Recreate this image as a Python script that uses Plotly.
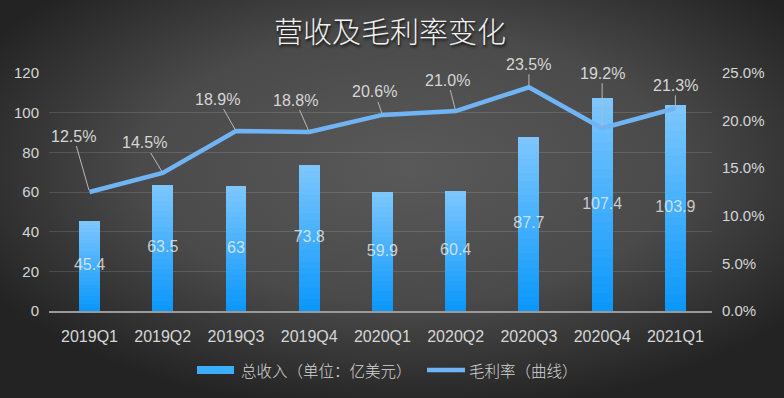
import plotly.graph_objects as go

categories = ["2019Q1", "2019Q2", "2019Q3", "2019Q4", "2020Q1", "2020Q2", "2020Q3", "2020Q4", "2021Q1"]
revenue = [45.4, 63.5, 63.0, 73.8, 59.9, 60.4, 87.7, 107.4, 103.9]
revenue_labels = ["45.4", "63.5", "63", "73.8", "59.9", "60.4", "87.7", "107.4", "103.9"]
margin = [12.5, 14.5, 18.9, 18.8, 20.6, 21.0, 23.5, 19.2, 21.3]
margin_labels = ["12.5%", "14.5%", "18.9%", "18.8%", "20.6%", "21.0%", "23.5%", "19.2%", "21.3%"]
label_offsets = [(-16, -56), (-18, -30), (-18, -32), (-14, -32), (-8, -23), (-8, -31), (0, -23), (0, -55), (0, -23)]

W, H = 784, 398
FONT = "Liberation Sans, Noto Sans CJK SC, sans-serif"
CJK = "Noto Sans CJK SC, sans-serif"
TXT = "#d6d6d6"

fig = go.Figure()

# gradient bars: stacked slices of each bar
N = 24
top = (124, 198, 253)
bot = (12, 152, 251)
for k in range(N):
    t = k / (N - 1)
    c = tuple(round(bot[i] + (top[i] - bot[i]) * t) for i in range(3))
    fig.add_trace(go.Bar(
        x=categories, y=[v / N for v in revenue], width=0.285,
        marker=dict(color="rgb(%d,%d,%d)" % c, line=dict(width=0)),
        showlegend=False, hoverinfo="skip", xaxis="x", yaxis="y",
    ))

# value labels at middle of bars
fig.add_trace(go.Scatter(
    x=categories, y=[v / 2 for v in revenue], mode="text", text=revenue_labels,
    textfont=dict(family=FONT, size=16, color="rgba(240,240,240,0.78)"),
    showlegend=False, hoverinfo="skip", xaxis="x", yaxis="y",
))

# margin line
fig.add_trace(go.Scatter(
    x=categories, y=margin, mode="lines",
    line=dict(color="#70b4f6", width=4.5),
    showlegend=False, xaxis="x", yaxis="y2",
))

x0d, x1d = 49 / W, 712 / W
y0d, y1d = (H - 311) / H, (H - 73) / H

annotations = []
for c, m, lab, (ax, ay) in zip(categories, margin, margin_labels, label_offsets):
    annotations.append(dict(
        x=c, y=m, xref="x", yref="y2", text=lab, showarrow=True,
        arrowhead=0, arrowwidth=1, arrowcolor="#b8b8b8", ax=ax, ay=ay,
        standoff=2, font=dict(family=FONT, size=16, color=TXT),
    ))

# title
annotations.append(dict(
    x=0.497, y=1 - 30 / H, xref="paper", yref="paper", text="营收及毛利率变化",
    showarrow=False, xanchor="center", yanchor="middle",
    font=dict(family=CJK, size=29, weight=300, color="#f2f2f2", shadow="1px 2px 3px rgba(0,0,0,0.85)"),
))

# custom legend
legend_y = 1 - 370 / H
shapes = [
    dict(type="rect", xref="paper", yref="paper", x0=197 / W, x1=234 / W,
         y0=legend_y - 4 / H, y1=legend_y + 4 / H, fillcolor="#3aaefc", line=dict(width=0)),
    dict(type="line", xref="paper", yref="paper", x0=427 / W, x1=465 / W,
         y0=legend_y, y1=legend_y, line=dict(color="#70b4f6", width=4.5)),
]
annotations.append(dict(x=239 / W, y=legend_y, xref="paper", yref="paper", text="总收入（单位：亿美元）",
                        showarrow=False, xanchor="left", yanchor="middle",
                        font=dict(family=CJK, size=15.5, weight=300, color=TXT)))
annotations.append(dict(x=467 / W, y=legend_y, xref="paper", yref="paper", text="毛利率（曲线）",
                        showarrow=False, xanchor="left", yanchor="middle",
                        font=dict(family=CJK, size=15.5, weight=300, color=TXT)))

bg_svg = ("data:image/svg+xml;utf8,"
          "<svg xmlns='http://www.w3.org/2000/svg' width='784' height='398' viewBox='0 0 784 398' preserveAspectRatio='none'>"
          "<defs><radialGradient id='g' cx='52%' cy='42%' r='62%'>"
          "<stop offset='0' stop-color='%23595959'/>"
          "<stop offset='0.55' stop-color='%234a4a4a'/>"
          "<stop offset='1' stop-color='%23232323'/>"
          "</radialGradient></defs>"
          "<rect width='784' height='398' fill='url(%23g)'/></svg>")

fig.update_layout(
    width=W, height=H, autosize=False,
    margin=dict(l=0, r=0, t=0, b=0, pad=0, autoexpand=False),
    paper_bgcolor="#262626", plot_bgcolor="rgba(0,0,0,0)",
    barmode="stack", bargap=0.7,
    showlegend=False,
    images=[dict(source=bg_svg, xref="paper", yref="paper", x=0, y=1, sizex=1, sizey=1,
                 xanchor="left", yanchor="top", sizing="stretch", layer="below")],
    xaxis=dict(domain=[x0d, x1d], showgrid=False, showline=True, linecolor="#9a9a9a", linewidth=1.5,
               ticks="", ticklabelstandoff=10, tickfont=dict(family=FONT, size=16, color=TXT),
               fixedrange=True, automargin=False),
    yaxis=dict(domain=[y0d, y1d], range=[0, 120], dtick=20, showgrid=True,
               gridcolor="rgba(255,255,255,0.13)", gridwidth=1, zeroline=False, showline=False,
               ticks="", ticklabelstandoff=9, tickfont=dict(family=FONT, size=15, color=TXT),
               automargin=False, fixedrange=True),
    yaxis2=dict(domain=[y0d, y1d], range=[0, 25], dtick=5, overlaying="y", side="right",
                showgrid=False, zeroline=False, showline=False, ticks="", ticksuffix="%",
                tickformat=".1f", ticklabelstandoff=9, tickfont=dict(family=FONT, size=15, color=TXT),
                automargin=False, fixedrange=True),
    annotations=annotations, shapes=shapes,
)

fig.write_html("out.html", config={"displayModeBar": False, "responsive": False},
               post_script="document.body.style.margin='0';document.body.style.overflow='hidden';")
